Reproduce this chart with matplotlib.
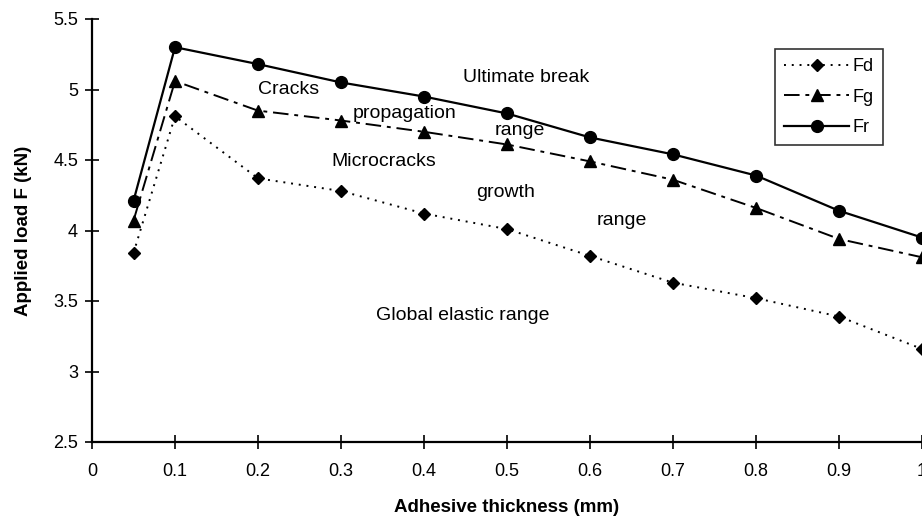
import matplotlib
matplotlib.use("Agg")
import matplotlib.pyplot as plt
from matplotlib.ticker import FuncFormatter

plt.rcParams['font.family'] = ['Liberation Sans', 'DejaVu Sans']

thickness = [0.05, 0.1, 0.2, 0.3, 0.4, 0.5, 0.6, 0.7, 0.8, 0.9, 1.0]
Fd = [3.84, 4.81, 4.37, 4.28, 4.12, 4.01, 3.82, 3.63, 3.52, 3.39, 3.16]
Fg = [4.07, 5.06, 4.85, 4.78, 4.70, 4.61, 4.49, 4.36, 4.16, 3.94, 3.81]
Fr = [4.21, 5.30, 5.18, 5.05, 4.95, 4.83, 4.66, 4.54, 4.39, 4.14, 3.95]

x_ticks = [0, 0.1, 0.2, 0.3, 0.4, 0.5, 0.6, 0.7, 0.8, 0.9, 1.0]
y_ticks = [2.5, 3, 3.5, 4, 4.5, 5, 5.5]

annotations = [
    ("Cracks", 0.200, 5.0),
    ("propagation", 0.3145, 4.833),
    ("range", 0.4855, 4.706),
    ("Ultimate break", 0.447, 5.082),
    ("Microcracks", 0.288, 4.486),
    ("growth", 0.4627, 4.273),
    ("range", 0.608, 4.074),
    ("Global elastic range", 0.342, 3.40),
]

fig = plt.figure(figsize=(9.22, 5.2), dpi=100)
ax = fig.add_axes([92/922, 1-442/520, 1-92/922, (442-19)/520])

ax.plot(thickness, Fd, color='black', linestyle=(0, (1, 3)), linewidth=1.4,
        marker='D', markersize=6.5, label='Fd')
ax.plot(thickness, Fg, color='black', linestyle=(0, (8, 3, 2, 3)), linewidth=1.4,
        marker='^', markersize=8, label='Fg')
ax.plot(thickness, Fr, color='black', linestyle='-', linewidth=1.6,
        marker='o', markersize=8.5, label='Fr')

ax.set_xlim(0, 1.0)
ax.set_ylim(2.5, 5.5)
ax.set_xticks(x_ticks)
ax.set_yticks(y_ticks)
ax.xaxis.set_major_formatter(FuncFormatter(lambda v, p: f"{v:g}"))
ax.yaxis.set_major_formatter(FuncFormatter(lambda v, p: f"{v:g}"))
ax.tick_params(direction='inout', length=10, width=1.2, labelsize=13, pad=10)
ax.tick_params(axis='y', pad=5)

for s in ['top', 'right']:
    ax.spines[s].set_visible(False)
for s in ['left', 'bottom']:
    ax.spines[s].set_linewidth(1.6)
    ax.spines[s].set_clip_on(False)

for text, xv, yv in annotations:
    ax.text(xv, yv, text, fontsize=14, ha='left', va='center')

ax.set_xlabel("Adhesive thickness (mm)", fontsize=13.5, fontweight='bold', labelpad=14)
ax.set_ylabel("Applied load F (kN)", fontsize=13.5, fontweight='bold', labelpad=15)

leg = ax.legend(loc='upper left', bbox_to_anchor=(775/922, 1-49/520),
                bbox_transform=fig.transFigure, fontsize=13, frameon=True,
                fancybox=False, handlelength=3.6, borderpad=0.5, labelspacing=0.75,
                handletextpad=0.2, borderaxespad=0)
leg.get_frame().set_edgecolor('black')
leg.get_frame().set_linewidth(1.2)

fig.savefig("out.png", dpi=100)
